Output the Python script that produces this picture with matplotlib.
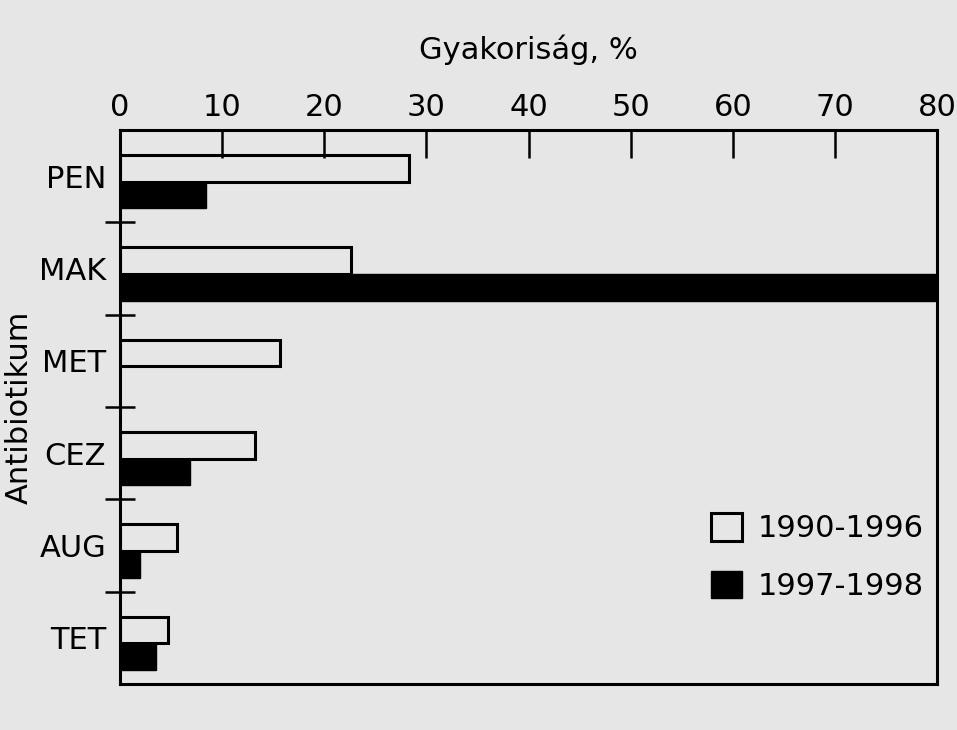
import numpy as np
import matplotlib.pyplot as plt

plt.rcParams['font.family'] = ['DejaVu Sans']

antibiotics = ['PEN', 'MAK', 'MET', 'CEZ', 'AUG', 'TET']
freq_1990_1996 = [28.3, 22.6, 15.7, 13.2, 5.6, 4.7]
freq_1997_1998 = [8.4, 80.0, 0.0, 6.9, 2.0, 3.5]
series_labels = ['1990-1996', '1997-1998']
x_ticks = [0, 10, 20, 30, 40, 50, 60, 70, 80]

bg = '#e6e6e6'
fig = plt.figure(figsize=(9.57, 7.3), dpi=100, facecolor=bg)
ax = fig.add_axes([120 / 957, 1 - 684 / 730, 817 / 957, 554 / 730], facecolor=bg)

y = np.arange(len(antibiotics))
h = 0.29
ax.barh(y - h / 2 + 0.06, freq_1990_1996, height=h, color=bg, edgecolor='black',
        linewidth=2.2, label=series_labels[0])
ax.barh(y + h / 2 + 0.06, freq_1997_1998, height=h, color='black', edgecolor='black',
        linewidth=1, label=series_labels[1])

ax.set_xlim(0, 80)
ax.set_ylim(len(antibiotics) - 0.5, -0.5)
ax.xaxis.tick_top()
ax.xaxis.set_label_position('top')
ax.set_xticks(x_ticks)
ax.tick_params(axis='x', direction='in', length=20, width=1.8, labelsize=22, pad=6)
ax.set_yticks(y)
ax.set_yticklabels(antibiotics)
ax.tick_params(axis='y', which='major', length=0, labelsize=22, pad=10)
ax.set_yticks(np.arange(0.5, len(antibiotics) - 1, 1), minor=True)
ax.tick_params(axis='y', which='minor', direction='inout', length=22, width=1.8)

for s in ax.spines.values():
    s.set_linewidth(2.2)

ax.set_xlabel('Gyakoriság, %', fontsize=22, labelpad=24)
ax.set_ylabel('Antibiotikum', fontsize=22)
ax.yaxis.set_label_coords(-0.106, 0.5)

ax.legend(loc='lower right', bbox_to_anchor=(1.017, 0.10), frameon=False,
          fontsize=22, handlelength=1.0, handleheight=1.0, handletextpad=0.5,
          labelspacing=0.9)

fig.savefig('out.png', dpi=100, facecolor=bg)
